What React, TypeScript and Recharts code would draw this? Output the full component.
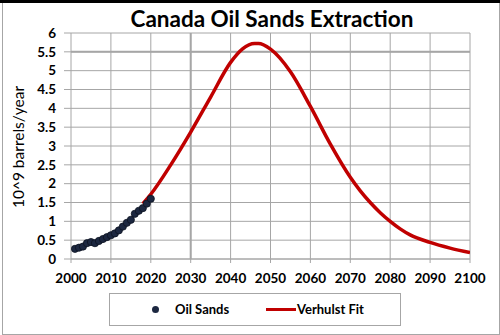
import {
  ComposedChart,
  Line,
  Scatter,
  XAxis,
  YAxis,
  CartesianGrid,
  ReferenceLine,
} from 'recharts';

const sandYears = [2001, 2002, 2003, 2004, 2005, 2006, 2007, 2008, 2009, 2010, 2011, 2012, 2013, 2014, 2015, 2016, 2017, 2018, 2019, 2020];
const sandValues = [0.27, 0.3, 0.33, 0.42, 0.45, 0.42, 0.48, 0.53, 0.58, 0.63, 0.68, 0.76, 0.86, 0.96, 1.04, 1.2, 1.28, 1.35, 1.47, 1.6];

const fitYears = [2018, 2020, 2025, 2030, 2035, 2040, 2043, 2046, 2047, 2050, 2055, 2060, 2065, 2070, 2072.5, 2075, 2077.5, 2080, 2082.5, 2085, 2090, 2095, 2100];
const fitValues = [1.47, 1.72, 2.5, 3.37, 4.3, 5.22, 5.58, 5.72, 5.72, 5.57, 4.97, 4.05, 3.05, 2.17, 1.81, 1.5, 1.23, 1.0, 0.8, 0.64, 0.44, 0.29, 0.17];

const xTicks = [2000, 2010, 2020, 2030, 2040, 2050, 2060, 2070, 2080, 2090, 2100];
const yTicks = [0, 0.5, 1, 1.5, 2, 2.5, 3, 3.5, 4, 4.5, 5, 5.5, 6];

const sandData = sandYears.map((year, i) => ({ year, value: sandValues[i] }));
const fitData = fitYears.map((year, i) => ({ year, value: fitValues[i] }));

const FONT = 'Lato, "Open Sans", sans-serif';
const GRID = '#a6a6a6';
const RED = '#c00000';

function Dot({ cx, cy }: { cx?: number; cy?: number }) {
  if (cx == null || cy == null) return null;
  return <circle cx={cx} cy={cy} r={3.6} fill="#1c2740" stroke="#0b1120" strokeWidth={0.8} />;
}

export default function App() {
  return (
    <div style={{ position: 'absolute', left: 0, top: 0, width: 500, height: 335, background: '#fff', fontFamily: FONT }}>
      <div style={{ position: 'absolute', left: 2, top: 0, width: 496, height: 333, border: `1px solid ${GRID}` }} />
      <div style={{ position: 'absolute', left: 0, top: 0, width: 500, height: 3, background: '#000' }} />

      <ComposedChart
        width={500}
        height={335}
        margin={{ top: 33, right: 30, bottom: 0, left: 0 }}
        style={{ position: 'absolute', left: 0, top: 0 }}
      >
        <CartesianGrid stroke={GRID} strokeWidth={1} />
        <XAxis
          type="number"
          dataKey="year"
          domain={[2000, 2100]}
          ticks={xTicks}
          interval={0}
          height={76}
          tickSize={4}
          tickMargin={10}
          stroke={GRID}
          tick={{ fontSize: 13.5, fontWeight: 700, fill: '#000', fontFamily: FONT }}
          allowDataOverflow
        />
        <YAxis
          type="number"
          domain={[0, 6]}
          ticks={yTicks}
          interval={0}
          width={71}
          tickSize={7}
          tickMargin={8}
          axisLine={false}
          tickLine={{ stroke: GRID }}
          tick={{ fontSize: 13.5, fontWeight: 700, fill: '#000', fontFamily: FONT }}
        />
        <ReferenceLine x={2030} stroke={GRID} strokeWidth={2} />
        <ReferenceLine y={5.5} stroke={GRID} strokeWidth={2} />
        <Line
          data={fitData}
          dataKey="value"
          type="monotone"
          stroke={RED}
          strokeWidth={3.5}
          dot={false}
          isAnimationActive={false}
        />
        <Scatter data={sandData} dataKey="value" shape={<Dot />} isAnimationActive={false} />
      </ComposedChart>

      <svg width={500} height={335} style={{ position: 'absolute', left: 0, top: 0, pointerEvents: 'none' }}>
        <text x={272} y={27} textAnchor="middle" fontSize={22.5} fontWeight={700} fill="#000" fontFamily={FONT}>
          Canada Oil Sands Extraction
        </text>
        <text
          x={24}
          y={147}
          transform="rotate(-90 24 147)"
          textAnchor="middle"
          fontSize={15.5}
          fill="#000"
          fontFamily={FONT}
        >
          10^9 barrels/year
        </text>
      </svg>

      <div
        style={{
          position: 'absolute',
          left: 109,
          top: 293,
          width: 290,
          height: 31,
          border: `1px solid ${GRID}`,
          fontSize: 13,
          fontWeight: 700,
          color: '#000',
        }}
      >
        <span style={{ position: 'absolute', left: 42, top: 12, width: 7, height: 7, borderRadius: '50%', background: '#1c2740' }} />
        <span style={{ position: 'absolute', left: 65, top: 7 }}>Oil Sands</span>
        <span style={{ position: 'absolute', left: 156, top: 14, width: 30, height: 3, background: RED }} />
        <span style={{ position: 'absolute', left: 187, top: 7 }}>Verhulst Fit</span>
      </div>
    </div>
  );
}
